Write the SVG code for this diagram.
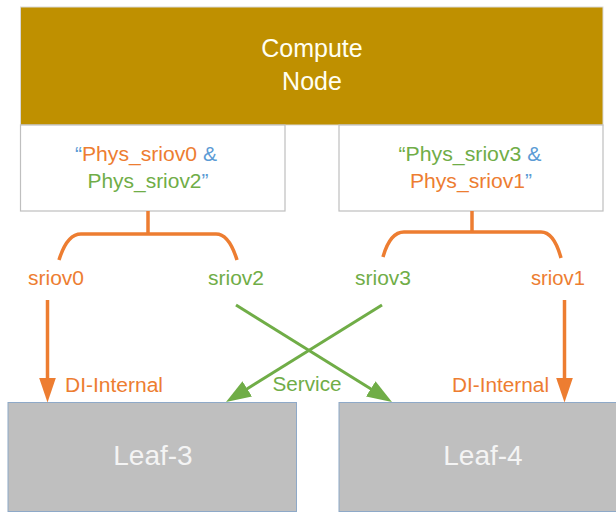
<svg xmlns="http://www.w3.org/2000/svg" width="616" height="514" viewBox="0 0 616 514">
  <style>
    text { font-family: "Liberation Sans", Arial, sans-serif; }
    .or { fill: #ED7D31; }
    .gr { fill: #70AD47; }
    .bl { fill: #5B9BD5; }
    .lbl { font-size: 20px; }
    .big { font-size: 25px; fill: #FFFFF2; text-anchor: middle; }
    .leaf { font-size: 28px; fill: #F4F4F4; text-anchor: middle; }
    .port { fill: #FFFFFF; stroke: #BFBFBF; stroke-width: 1.2; }
    .leafbox { fill: #BFBFBF; stroke: #8EA9C8; stroke-width: 1; }
    .olink { fill: none; stroke: #ED7D31; stroke-width: 3.5; }
    .glink { fill: none; stroke: #70AD47; stroke-width: 3; }
  </style>
  <defs>
    <marker id="arrowOrange" markerUnits="userSpaceOnUse" markerWidth="26" markerHeight="18" refX="15" refY="8.5" orient="auto">
      <path d="M0,0 L25,8.5 L0,17 Z" fill="#ED7D31"/>
    </marker>
    <marker id="arrowGreen" markerUnits="userSpaceOnUse" markerWidth="26" markerHeight="20" refX="15" refY="9" orient="auto">
      <path d="M0,0 L25,9 L0,18 Z" fill="#70AD47"/>
    </marker>
  </defs>

  <rect width="616" height="514" fill="#FFFFFF"/>

  <!-- Compute node with its two port groups -->
  <g id="compute-node">
    <rect x="20.5" y="7" width="582.5" height="118" fill="#BF9000" stroke="#D9D9D9" stroke-width="1"/>
    <text class="big" x="312" y="57">Compute</text>
    <text class="big" x="312" y="90">Node</text>
  </g>

  <g id="ports-left">
    <rect class="port" x="20.5" y="125" width="264.5" height="86"/>
    <text class="lbl" x="146" y="161" text-anchor="middle" textLength="142" lengthAdjust="spacingAndGlyphs"><tspan class="bl">“</tspan><tspan class="or">Phys_sriov0</tspan><tspan class="bl"> &amp;</tspan></text>
    <text class="lbl" x="148" y="188" text-anchor="middle" textLength="121" lengthAdjust="spacingAndGlyphs"><tspan class="gr">Phys_sriov2</tspan><tspan class="bl">”</tspan></text>
  </g>

  <g id="ports-right">
    <rect class="port" x="339" y="125" width="264" height="86"/>
    <text class="lbl" x="470" y="161" text-anchor="middle" textLength="143" lengthAdjust="spacingAndGlyphs"><tspan class="gr">“Phys_sriov3</tspan><tspan class="bl"> &amp;</tspan></text>
    <text class="lbl" x="471" y="188" text-anchor="middle" textLength="122" lengthAdjust="spacingAndGlyphs"><tspan class="or">Phys_sriov1</tspan><tspan class="bl">”</tspan></text>
  </g>

  <!-- Leaf switches -->
  <g id="leaf-3">
    <rect class="leafbox" x="8" y="402.5" width="288.5" height="109"/>
    <text class="leaf" x="153" y="465">Leaf-3</text>
  </g>
  <g id="leaf-4">
    <rect class="leafbox" x="339" y="402.5" width="280" height="109"/>
    <text class="leaf" x="483" y="465">Leaf-4</text>
  </g>

  <!-- Interface labels -->
  <g id="interfaces">
    <text class="lbl or" x="56" y="285" text-anchor="middle" textLength="56" lengthAdjust="spacingAndGlyphs">sriov0</text>
    <text class="lbl gr" x="236" y="285" text-anchor="middle" textLength="56" lengthAdjust="spacingAndGlyphs">sriov2</text>
    <text class="lbl gr" x="383" y="285" text-anchor="middle" textLength="56" lengthAdjust="spacingAndGlyphs">sriov3</text>
    <text class="lbl or" x="558" y="285" text-anchor="middle" textLength="54" lengthAdjust="spacingAndGlyphs">sriov1</text>
  </g>

  <!-- Connectors -->
  <g id="connectors">
    <path class="olink" d="M148,211 V234"/>
    <path class="olink" d="M59,260 Q67,234 81,234 H216 Q229,234 237,260"/>
    <path class="olink" d="M472,211 V232"/>
    <path class="olink" d="M383,257 Q390,232 404,232 H541 Q554,232 561,258"/>

    <path class="olink" d="M47.5,300 V392.5" marker-end="url(#arrowOrange)"/>
    <path class="olink" d="M564.5,300 V392.5" marker-end="url(#arrowOrange)"/>

    <path class="glink" d="M236,305 L383.5,396.7" marker-end="url(#arrowGreen)"/>
    <path class="glink" d="M382,305 L234.5,396.7" marker-end="url(#arrowGreen)"/>

    <text class="lbl or" x="65" y="392" textLength="98" lengthAdjust="spacingAndGlyphs">DI-Internal</text>
    <text class="lbl or" x="452" y="392" textLength="97" lengthAdjust="spacingAndGlyphs">DI-Internal</text>
    <text class="lbl gr" x="307" y="391" text-anchor="middle" textLength="69" lengthAdjust="spacingAndGlyphs">Service</text>
  </g>
</svg>
